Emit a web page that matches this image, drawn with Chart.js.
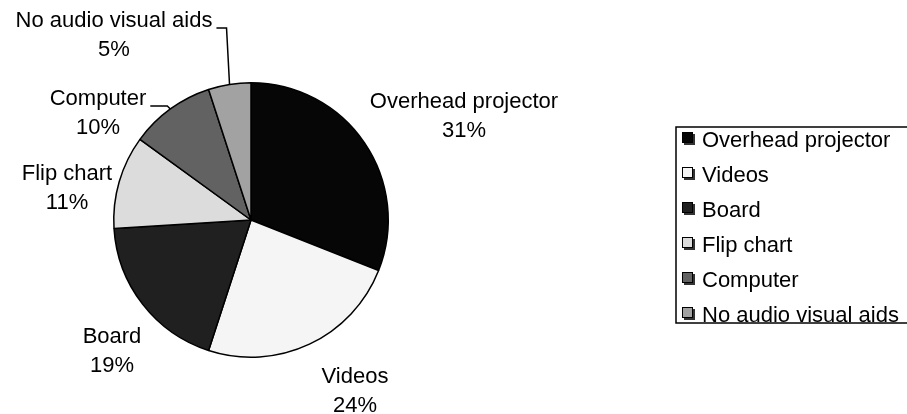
<!DOCTYPE html>
<html>
<head>
<meta charset="utf-8">
<script src="https://cdn.jsdelivr.net/npm/chart.js@4.4.1/dist/chart.umd.min.js"></script>
<style>
  html, body { margin: 0; padding: 0; background: #fff; }
  #wrap { width: 907px; height: 414px; position: relative; }
</style>
</head>
<body>
<div id="wrap"><canvas id="pie"></canvas></div>
<script>
const categories = ["Overhead projector", "Videos", "Board", "Flip chart", "Computer", "No audio visual aids"];
const shares = [31, 24, 19, 11, 10, 5];
const percentLabels = ["31%", "24%", "19%", "11%", "10%", "5%"];

const sliceColors = ['#060606', '#f5f5f5', '#202020', '#dcdcdc', '#626262', '#a2a2a2'];

// where each outside label sits, relative to the pie centre (text centre x, first baseline y)
const labelLayout = [
  { dx: 213, dy: -112, leader: false },
  { dx: 104, dy: 163, leader: false },
  { dx: -139, dy: 123, leader: false },
  { dx: -184, dy: -40, leader: false },
  { dx: -153, dy: -115, leader: true },
  { dx: -137, dy: -193, leader: true }
];

const FONT = '22px "Liberation Sans", Arial, sans-serif';

const outsideLabels = {
  id: 'outsideLabels',
  afterDraw(chart) {
    const ctx = chart.ctx;
    const meta = chart.getDatasetMeta(0);
    ctx.save();
    ctx.font = FONT;
    ctx.fillStyle = '#000';
    ctx.textAlign = 'center';
    ctx.textBaseline = 'alphabetic';
    meta.data.forEach((arc, i) => {
      const cx = arc.x, cy = arc.y, r = arc.outerRadius;
      const lay = labelLayout[i];
      const tx = cx + lay.dx, ty = cy + lay.dy;
      ctx.fillText(categories[i], tx, ty);
      ctx.fillText(percentLabels[i], tx, ty + 29);

      if (lay.leader) {
        const mid = (arc.startAngle + arc.endAngle) / 2;
        const ex = cx + r * Math.cos(mid);
        const ey = cy + r * Math.sin(mid);
        const w = ctx.measureText(categories[i]).width;
        const sx = tx + w / 2 + 4;
        const sy = ty + 1;
        const elbowX = ex - 3;
        ctx.beginPath();
        ctx.strokeStyle = '#000';
        ctx.lineWidth = 1.5;
        ctx.moveTo(sx, sy);
        ctx.lineTo(elbowX, sy);
        ctx.lineTo(ex, ey);
        ctx.stroke();
      }
    });
    ctx.restore();
  }
};

const boxLegend = {
  id: 'boxLegend',
  afterDraw(chart) {
    const ctx = chart.ctx;
    const left = 676, top = 127, bottom = 323, right = 908;
    ctx.save();
    ctx.strokeStyle = '#000';
    ctx.lineWidth = 1.5;
    ctx.strokeRect(left, top, right - left, bottom - top);

    ctx.font = FONT;
    ctx.textAlign = 'left';
    ctx.textBaseline = 'alphabetic';
    categories.forEach((name, i) => {
      const base = 147 + i * 35;
      // little shadow then the swatch
      ctx.fillStyle = '#333';
      ctx.fillRect(684, base - 13, 11, 11);
      ctx.fillStyle = sliceColors[i];
      ctx.fillRect(682, base - 15, 11, 11);
      ctx.lineWidth = 1;
      ctx.strokeStyle = '#000';
      ctx.strokeRect(682.5, base - 14.5, 10, 10);
      ctx.fillStyle = '#000';
      ctx.fillText(name, 702, base);
    });
    ctx.restore();
  }
};

new Chart(document.getElementById('pie'), {
  type: 'pie',
  data: {
    labels: categories,
    datasets: [{
      data: shares,
      backgroundColor: sliceColors,
      borderColor: '#000',
      borderWidth: 1.5
    }]
  },
  options: {
    responsive: true,
    maintainAspectRatio: false,
    animation: false,
    layout: { padding: { left: 113, right: 518, top: 82, bottom: 56 } },
    plugins: {
      legend: { display: false },
      tooltip: { enabled: false }
    }
  },
  plugins: [outsideLabels, boxLegend]
});
</script>
</body>
</html>
